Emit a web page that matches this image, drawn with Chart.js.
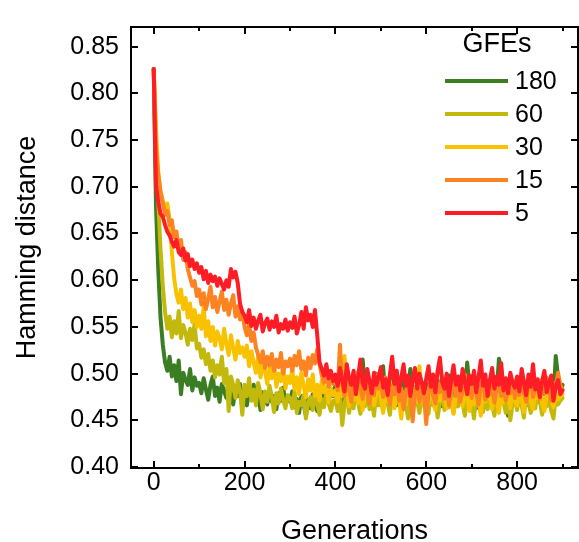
<!DOCTYPE html>
<html>
<head>
<meta charset="utf-8">
<script src="https://cdn.jsdelivr.net/npm/chart.js@4.4.1/dist/chart.umd.min.js"></script>
<style>
  html, body { margin: 0; padding: 0; background: #fff; }
</style>
</head>
<body>
<canvas id="chart" width="579" height="542"></canvas>
<script>
// one sample every 5 generations
const step = 5

const gfeLabels = ['180', '60', '30', '15', '5']
const gfeColors = ['#3a7d22', '#c2b90c', '#f9c200', '#fd8222', '#fe1d25']

const gfe180 = [
  0.826, 0.680, 0.612, 0.560, 0.531, 0.512, 0.503, 0.518, 0.497, 0.509, 0.492, 0.514, 0.478, 0.501, 0.493, 0.488, 0.505, 0.482, 0.496, 0.487,
  0.490, 0.479, 0.495, 0.483, 0.472, 0.488, 0.497, 0.476, 0.485, 0.470, 0.489, 0.481, 0.474, 0.492, 0.478, 0.467, 0.484, 0.476, 0.489, 0.471,
  0.478, 0.466, 0.482, 0.473, 0.488, 0.469, 0.477, 0.461, 0.480, 0.472, 0.467, 0.483, 0.470, 0.476, 0.462, 0.479, 0.471, 0.485, 0.468, 0.474,
  0.470, 0.481, 0.464, 0.473, 0.458, 0.476, 0.467, 0.455, 0.472, 0.463, 0.478, 0.469, 0.460, 0.475, 0.466, 0.481, 0.473, 0.468, 0.484, 0.476,
  0.487, 0.475, 0.493, 0.470, 0.482, 0.497, 0.478, 0.468, 0.486, 0.474, 0.491, 0.480, 0.515, 0.484, 0.477, 0.492, 0.471, 0.483, 0.500, 0.479,
  0.485, 0.508, 0.476, 0.489, 0.472, 0.495, 0.481, 0.466, 0.488, 0.477, 0.494, 0.470, 0.483, 0.505, 0.479, 0.468, 0.486, 0.474, 0.491, 0.480,
  0.476, 0.489, 0.468, 0.484, 0.473, 0.493, 0.479, 0.465, 0.487, 0.475, 0.498, 0.482, 0.469, 0.486, 0.477, 0.494, 0.481, 0.470, 0.512, 0.488,
  0.478, 0.490, 0.463, 0.481, 0.472, 0.486, 0.475, 0.468, 0.489, 0.477, 0.494, 0.480, 0.516, 0.501, 0.488, 0.474, 0.455, 0.483, 0.470, 0.487,
  0.479, 0.492, 0.471, 0.484, 0.466, 0.488, 0.476, 0.495, 0.473, 0.482, 0.469, 0.487, 0.478, 0.491, 0.474, 0.483, 0.470, 0.519, 0.497, 0.481,
  0.488
]

const gfe60 = [
  0.826, 0.748, 0.684, 0.633, 0.594, 0.566, 0.548, 0.561, 0.539, 0.556, 0.543, 0.567, 0.538, 0.552, 0.544, 0.531, 0.548, 0.536, 0.553, 0.527,
  0.532, 0.517, 0.526, 0.510, 0.521, 0.503, 0.514, 0.496, 0.509, 0.499, 0.518, 0.490, 0.505, 0.460, 0.497, 0.488, 0.474, 0.493, 0.482, 0.456,
  0.488, 0.476, 0.495, 0.471, 0.483, 0.466, 0.490, 0.478, 0.462, 0.481, 0.470, 0.487, 0.475, 0.459, 0.479, 0.468, 0.484, 0.472, 0.463, 0.477,
  0.474, 0.463, 0.481, 0.458, 0.470, 0.466, 0.477, 0.452, 0.469, 0.475, 0.461, 0.482, 0.467, 0.456, 0.473, 0.464, 0.479, 0.468, 0.460, 0.471,
  0.472, 0.460, 0.478, 0.445, 0.467, 0.481, 0.458, 0.473, 0.463, 0.488, 0.469, 0.457, 0.476, 0.465, 0.484, 0.462, 0.471, 0.455, 0.479, 0.466,
  0.474, 0.460, 0.483, 0.468, 0.456, 0.477, 0.465, 0.489, 0.471, 0.459, 0.480, 0.467, 0.452, 0.475, 0.463, 0.486, 0.470, 0.458, 0.478, 0.466,
  0.471, 0.457, 0.482, 0.466, 0.475, 0.453, 0.469, 0.487, 0.461, 0.474, 0.464, 0.480, 0.458, 0.472, 0.465, 0.490, 0.468, 0.455, 0.476, 0.463,
  0.470, 0.452, 0.478, 0.466, 0.484, 0.459, 0.473, 0.462, 0.481, 0.468, 0.455, 0.475, 0.464, 0.487, 0.470, 0.458, 0.479, 0.450, 0.468, 0.474,
  0.461, 0.477, 0.466, 0.453, 0.480, 0.469, 0.458, 0.475, 0.463, 0.486, 0.471, 0.456, 0.473, 0.465, 0.481, 0.460, 0.452, 0.476, 0.467, 0.471,
  0.474
]

const gfe30 = [
  0.826, 0.762, 0.715, 0.695, 0.685, 0.678, 0.682, 0.665, 0.630, 0.602, 0.585, 0.576, 0.590, 0.569, 0.581, 0.560, 0.575, 0.555, 0.568, 0.550,
  0.562, 0.548, 0.571, 0.540, 0.556, 0.535, 0.550, 0.530, 0.545, 0.538, 0.526, 0.548, 0.532, 0.520, 0.541, 0.527, 0.515, 0.535, 0.522, 0.528,
  0.518, 0.530, 0.508, 0.524, 0.512, 0.501, 0.519, 0.496, 0.510, 0.503, 0.489, 0.507, 0.495, 0.512, 0.486, 0.500, 0.492, 0.508, 0.484, 0.497,
  0.490, 0.505, 0.483, 0.496, 0.478, 0.501, 0.487, 0.475, 0.494, 0.482, 0.499, 0.476, 0.488, 0.471, 0.493, 0.480, 0.486, 0.469, 0.484, 0.477,
  0.482, 0.470, 0.491, 0.476, 0.519, 0.485, 0.465, 0.480, 0.472, 0.494, 0.468, 0.483, 0.461, 0.477, 0.489, 0.471, 0.484, 0.466, 0.479, 0.490,
  0.474, 0.458, 0.483, 0.470, 0.492, 0.476, 0.463, 0.485, 0.472, 0.452, 0.479, 0.467, 0.488, 0.475, 0.460, 0.482, 0.470, 0.508, 0.477, 0.465,
  0.480, 0.468, 0.487, 0.473, 0.461, 0.484, 0.471, 0.494, 0.476, 0.463, 0.482, 0.469, 0.457, 0.478, 0.488, 0.472, 0.465, 0.483, 0.474, 0.460,
  0.477, 0.467, 0.486, 0.472, 0.455, 0.481, 0.470, 0.491, 0.475, 0.462, 0.484, 0.473, 0.458, 0.480, 0.469, 0.487, 0.474, 0.463, 0.482, 0.471,
  0.466, 0.484, 0.473, 0.459, 0.479, 0.488, 0.470, 0.462, 0.481, 0.474, 0.493, 0.468, 0.460, 0.477, 0.485, 0.471, 0.464, 0.480, 0.472, 0.476,
  0.478
]

const gfe15 = [
  0.826, 0.742, 0.713, 0.694, 0.683, 0.670, 0.674, 0.659, 0.664, 0.646, 0.652, 0.633, 0.643, 0.622, 0.630, 0.612, 0.603, 0.594, 0.599, 0.583,
  0.590, 0.574, 0.586, 0.569, 0.580, 0.593, 0.571, 0.582, 0.566, 0.577, 0.588, 0.568, 0.579, 0.563, 0.575, 0.584, 0.561, 0.572, 0.558, 0.567,
  0.550, 0.541, 0.553, 0.535, 0.544, 0.528, 0.520, 0.512, 0.524, 0.506, 0.518, 0.509, 0.521, 0.503, 0.515, 0.507, 0.522, 0.500, 0.513, 0.508,
  0.516, 0.503, 0.519, 0.509, 0.524, 0.505, 0.513, 0.498, 0.517, 0.506, 0.520, 0.511, 0.526, 0.510, 0.498, 0.490, 0.503, 0.486, 0.495, 0.489,
  0.494, 0.482, 0.531, 0.488, 0.476, 0.497, 0.483, 0.470, 0.491, 0.479, 0.502, 0.486, 0.473, 0.495, 0.481, 0.468, 0.489, 0.477, 0.499, 0.484,
  0.490, 0.475, 0.496, 0.481, 0.467, 0.487, 0.478, 0.498, 0.471, 0.484, 0.462, 0.480, 0.493, 0.474, 0.449, 0.479, 0.488, 0.470, 0.485, 0.476,
  0.446, 0.482, 0.493, 0.477, 0.468, 0.489, 0.480, 0.497, 0.473, 0.485, 0.466, 0.481, 0.494, 0.476, 0.488, 0.470, 0.483, 0.499, 0.478, 0.486,
  0.474, 0.491, 0.480, 0.467, 0.487, 0.495, 0.472, 0.484, 0.478, 0.490, 0.469, 0.483, 0.497, 0.476, 0.488, 0.471, 0.485, 0.479, 0.493, 0.474,
  0.486, 0.477, 0.495, 0.481, 0.470, 0.489, 0.498, 0.475, 0.484, 0.492, 0.473, 0.487, 0.479, 0.496, 0.482, 0.471, 0.490, 0.485, 0.501, 0.488,
  0.483
]

const gfe5 = [
  0.826, 0.702, 0.684, 0.671, 0.668, 0.659, 0.652, 0.648, 0.641, 0.636, 0.643, 0.630, 0.627, 0.634, 0.621, 0.628, 0.615, 0.622, 0.612, 0.618,
  0.608, 0.614, 0.601, 0.610, 0.597, 0.606, 0.599, 0.604, 0.594, 0.602, 0.596, 0.590, 0.600, 0.593, 0.612, 0.603, 0.609, 0.597, 0.575, 0.566,
  0.562, 0.555, 0.568, 0.551, 0.560, 0.548, 0.557, 0.563, 0.545, 0.554, 0.559, 0.547, 0.556, 0.550, 0.562, 0.544, 0.553, 0.548, 0.558, 0.546,
  0.555, 0.549, 0.561, 0.543, 0.552, 0.566, 0.548, 0.571, 0.557, 0.563, 0.550, 0.568, 0.541, 0.512, 0.505, 0.498, 0.510, 0.495, 0.503, 0.492,
  0.499, 0.487, 0.506, 0.493, 0.481, 0.510, 0.495, 0.488, 0.503, 0.478, 0.497, 0.515, 0.490, 0.484, 0.505, 0.492, 0.479, 0.501, 0.488, 0.496,
  0.507, 0.485, 0.494, 0.477, 0.499, 0.518, 0.489, 0.503, 0.481, 0.496, 0.510, 0.487, 0.498, 0.476, 0.493, 0.506, 0.484, 0.500, 0.490, 0.479,
  0.495, 0.508, 0.486, 0.499, 0.480, 0.503, 0.517, 0.491, 0.484, 0.500, 0.476, 0.494, 0.509, 0.488, 0.497, 0.482, 0.505, 0.492, 0.478, 0.498,
  0.489, 0.503, 0.480, 0.496, 0.514, 0.487, 0.499, 0.476, 0.493, 0.506, 0.484, 0.497, 0.488, 0.511, 0.482, 0.495, 0.479, 0.501, 0.490, 0.485,
  0.497, 0.481, 0.505, 0.491, 0.477, 0.499, 0.486, 0.510, 0.483, 0.494, 0.475, 0.492, 0.503, 0.480, 0.489, 0.498, 0.471, 0.486, 0.493, 0.478,
  0.482
]

const seriesValues = [gfe180, gfe60, gfe30, gfe15, gfe5]

const xTicks = [0, 200, 400, 600, 800]
const xMinorTicks = [100, 300, 500, 700, 900]
const yTicks = [0.40, 0.45, 0.50, 0.55, 0.60, 0.65, 0.70, 0.75, 0.80, 0.85]

const FONT = "'Liberation Sans', Arial, sans-serif"
Chart.defaults.font.family = FONT
Chart.defaults.color = '#000'

// frame with inward tick marks on all four sides + legend inside the plot
const framePlugin = {
    id: 'frame',
    afterDatasetsDraw(chart) {
        const { ctx, chartArea: a, scales: { x, y } } = chart
        ctx.save()
        ctx.strokeStyle = '#000'
        ctx.lineWidth = 2
        ctx.strokeRect(a.left, a.top, a.right - a.left, a.bottom - a.top)

        ctx.beginPath()
        xTicks.forEach(v => {
            const px = Math.round(x.getPixelForValue(v))
            ctx.moveTo(px, a.bottom); ctx.lineTo(px, a.bottom - 7)
            ctx.moveTo(px, a.top); ctx.lineTo(px, a.top + 7)
        })
        xMinorTicks.forEach(v => {
            const px = Math.round(x.getPixelForValue(v))
            ctx.moveTo(px, a.bottom); ctx.lineTo(px, a.bottom - 4)
            ctx.moveTo(px, a.top); ctx.lineTo(px, a.top + 4)
        })
        yTicks.forEach(v => {
            const py = Math.round(y.getPixelForValue(v))
            ctx.moveTo(a.left, py); ctx.lineTo(a.left + 7, py)
            ctx.moveTo(a.right, py); ctx.lineTo(a.right - 7, py)
        })
        ctx.stroke()

        // legend
        ctx.fillStyle = '#000'
        ctx.textBaseline = 'middle'
        ctx.textAlign = 'center'
        ctx.font = `27px ${FONT}`
        ctx.fillText('GFEs', 497, 45)
        ctx.font = `25px ${FONT}`
        ctx.textAlign = 'left'
        ctx.lineWidth = 4
        gfeLabels.forEach((lab, i) => {
            const ly = 81 + i * 33
            ctx.strokeStyle = gfeColors[i]
            ctx.beginPath()
            ctx.moveTo(445, ly); ctx.lineTo(508, ly)
            ctx.stroke()
            ctx.fillText(lab, 515, ly + 1)
        })
        ctx.restore()
    }
}

const datasets = seriesValues.map((vals, i) => ({
    label: gfeLabels[i],
    data: vals.map((v, k) => ({ x: k * step, y: v })),
    borderColor: gfeColors[i],
    backgroundColor: gfeColors[i],
    order: seriesValues.length - i
}))

const ctx = document.getElementById('chart').getContext('2d')
const chart = new Chart(ctx, {
    type: 'line',
    data: { datasets },
    options: {
        responsive: false,
        animation: false,
        devicePixelRatio: 1,
        layout: { padding: { top: 20, right: 1, left: 0, bottom: 0 } },
        plugins: { legend: { display: false }, tooltip: { enabled: false } },
        elements: {
            point: { radius: 0 },
            line: { borderWidth: 4, tension: 0, borderJoinStyle: 'round', borderCapStyle: 'round' }
        },
        scales: {
            x: {
                type: 'linear',
                min: -50,
                max: 934,
                grid: { display: false, drawTicks: false },
                border: { display: false },
                afterBuildTicks: s => { s.ticks = xTicks.map(v => ({ value: v })) },
                afterFit: s => { s.height = 74 },
                ticks: { font: { size: 25 }, padding: 0, maxRotation: 0, autoSkip: false },
                title: { display: true, text: 'Generations', font: { size: 27, lineHeight: 1 }, padding: { top: 0, bottom: -3 } }
            },
            y: {
                min: 0.399,
                max: 0.871,
                grid: { display: false, drawTicks: false },
                border: { display: false },
                afterBuildTicks: s => { s.ticks = yTicks.map(v => ({ value: v })) },
                afterFit: s => { s.width = 131 },
                ticks: { font: { size: 25 }, padding: 12, autoSkip: false, callback: v => v.toFixed(2) },
                title: { display: true, text: 'Hamming distance', font: { size: 27 }, padding: { top: 11, bottom: 0 } }
            }
        }
    },
    plugins: [framePlugin]
})
</script>
</body>
</html>
